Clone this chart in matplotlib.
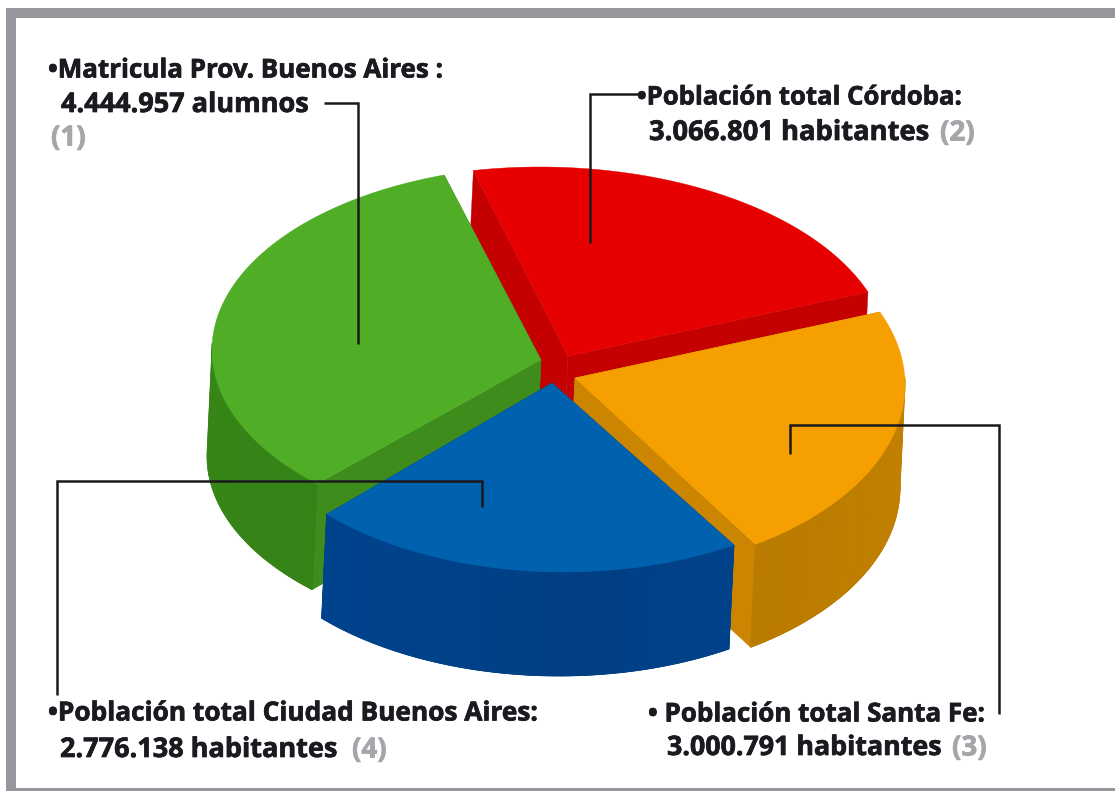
import numpy as np
import matplotlib
matplotlib.use('Agg')
import matplotlib.pyplot as plt
import matplotlib.patheffects as pe
from matplotlib.patches import Polygon, Rectangle

plt.rcParams['font.family'] = ['Open Sans', 'DejaVu Sans']

# datos
regiones = ['Prov. Buenos Aires', 'Ciudad Buenos Aires', 'Santa Fe', 'Cordoba']
valores = ['4.444.957', '2.776.138', '3.000.791', '3.066.801']
# angulos de cada porcion (no son proporcionales exactos)
ang_ini = [108, 224, -57, 20]
ang_fin = [226.6, 301, 22.6, 101]
colores_top = ['#4fad26', '#0061ae', '#f5a000', '#e60000']
colores_lado = ['#347f16', '#00428a', '#b87a00', '#b80000']
colores_corte = ['#3d8c1c', '#00417c', '#cc8500', '#c40000']

# geometria: vertice y elipse de cada porcion
vertices = [(541, 360), (552, 383), (575, 378), (568, 356)]
elipses = [(548, 350, 336, 184), (564, 383, 330, 189), (577, 385, 328, 190), (540, 357, 349, 190)]
alturas = [106, 104, 103, 103]
orden = [3, 0, 2, 1]
SHIFT = -5


def arco(e, t1, t2, n=120):
    t = np.radians(np.linspace(t1, t2, n))
    return e[0] + e[2] * np.cos(t), e[1] - e[3] * np.sin(t)


def oscurecer(col, f):
    rgb = np.array(matplotlib.colors.to_rgb(col))
    return tuple(np.clip(rgb * f, 0, 1))


def dibujar_porcion(ax, v, e, t1, t2, h, top, lado, corte):
    # paredes radiales
    for t in (t1, t2):
        x, y = arco(e, t, t, 1)
        pts = [v, (x[0], y[0]), (x[0] + SHIFT, y[0] + h), (v[0] + SHIFT, v[1] + h)]
        ax.add_patch(Polygon(pts, fc=corte, ec=corte, lw=0.3))
    # pared exterior: base y encima facetas con un poco de sombra
    x, y = arco(e, t1, t2)
    ts = np.linspace(t1, t2, 120)
    s = np.sin(np.radians(ts))
    m = s < 0.05
    if m.any():
        base = list(zip(x[m], y[m])) + list(zip(x[m][::-1] + SHIFT, y[m][::-1] + h))
        ax.add_patch(Polygon(base, fc=lado, ec=lado, lw=0.3))
        idx = np.where(m)[0]
        cortes = list(idx[::8])
        if cortes[-1] != idx[-1]:
            cortes.append(idx[-1])
        for a, b in zip(cortes[:-1], cortes[1:]):
            f = 0.95 + 0.1 * abs(np.cos(np.radians(ts[a])))
            col = oscurecer(lado, f)
            pts = list(zip(x[a:b + 1], y[a:b + 1])) + list(zip(x[a:b + 1][::-1] + SHIFT, y[a:b + 1][::-1] + h))
            ax.add_patch(Polygon(pts, fc=col, ec=col, lw=0.6))
    # tapa
    pts = [v] + list(zip(x, y))
    ax.add_patch(Polygon(pts, fc=top, ec=top, lw=0.3))


fig = plt.figure(figsize=(11.15, 7.91), dpi=100)
ax = fig.add_axes([0, 0, 1, 1])
ax.set_xlim(0, 1115)
ax.set_ylim(791, 0)
ax.axis('off')

# marco
GRIS = '#96969c'
ax.add_patch(Rectangle((6, 8), 1109, 10, fc=GRIS, ec='none'))
ax.add_patch(Rectangle((6, 8), 10, 783, fc=GRIS, ec='none'))
ax.add_patch(Rectangle((6, 788), 1109, 3, fc=GRIS, ec='none'))

# porciones
for i in orden:
    dibujar_porcion(ax, vertices[i], elipses[i], ang_ini[i], ang_fin[i], alturas[i],
                    colores_top[i], colores_lado[i], colores_corte[i])

# lineas de referencia
lineas = [
    ([324, 358, 358], [103, 103, 344]),
    ([638, 590, 590], [94, 94, 243]),
    ([790, 790, 999, 999], [454, 425, 425, 714]),
    ([482, 482, 57, 57], [507, 481, 481, 695]),
]
for lx, ly in lineas:
    ax.plot(lx, ly, color='#1a1a1e', lw=1.8, solid_joinstyle='miter', solid_capstyle='butt')

# textos
NEGRO = '#1a1a20'
GR = '#a5a5aa'
textos = [
    (48, 70, '•Matricula Prov. Buenos Aires :', NEGRO, 18.7),
    (61, 105, '4.444.957 alumnos', NEGRO, 19.5),
    (51, 138, '(1)', GR, 20),
    (637, 97, '•Población total Córdoba:', NEGRO, 18.5),
    (649, 133, '3.066.801 habitantes', NEGRO, 19.7),
    (940, 133, '(2)', GR, 20),
    (48, 713, '•Población total Ciudad Buenos Aires:', NEGRO, 18.9),
    (60, 750, '2.776.138 habitantes', NEGRO, 19.5),
    (352, 750, '(4)', GR, 20),
    (648, 714, '• Población total Santa Fe:', NEGRO, 18.7),
    (667, 748, '3.000.791 habitantes', NEGRO, 19.3),
    (952, 748, '(3)', GR, 20),
]
for x, y, s, col, fs in textos:
    ax.text(x, y, s, color=col, fontsize=fs, fontweight='bold', ha='left', va='center',
            path_effects=[pe.withStroke(linewidth=0.5, foreground=col)])

fig.savefig('out.png', dpi=100)
